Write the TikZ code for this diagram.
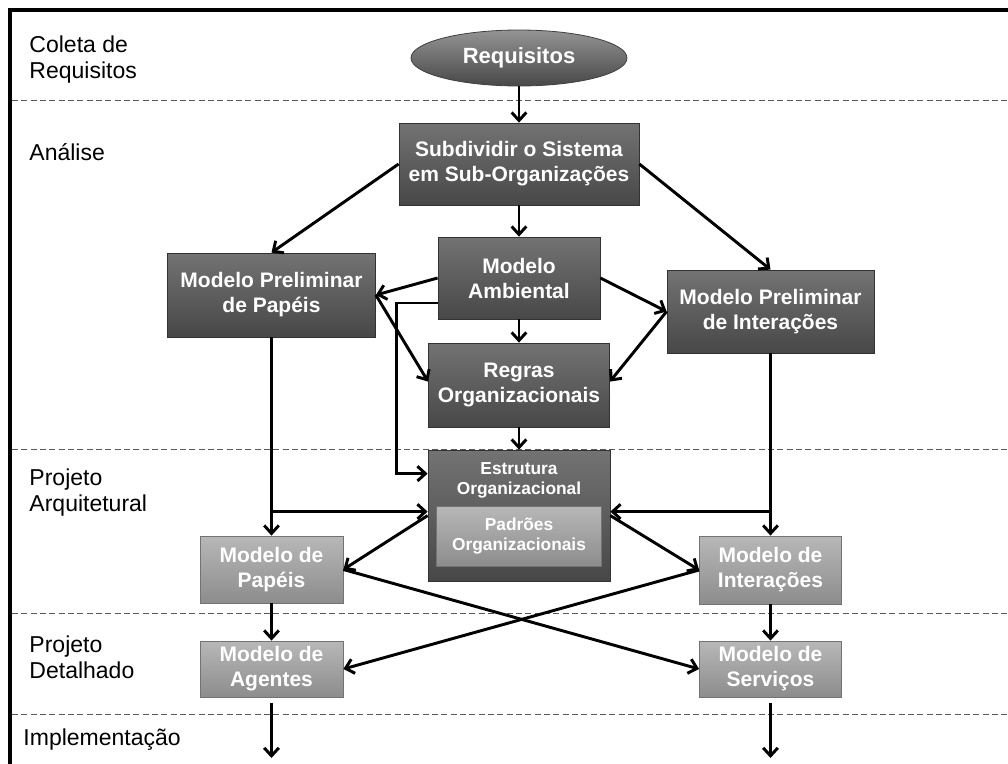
\documentclass[tikz,border=0pt]{standalone}
\usepackage{fontspec}
\setmainfont{Liberation Sans}
\usetikzlibrary{shapes, shapes.geometric, arrows.meta, calc}

\def\pxu{0.75pt}

\begin{document}
\begin{tikzpicture}[
    x=0.75pt, y=-0.75pt,
    line width = 2.2pt,
    every node/.style={align=center, inner sep=0pt},
    boxsize/.style 2 args={minimum width=#1*\pxu, minimum height=#2*\pxu},
    darkbox/.style={rectangle, draw=black!80, line width=0.6pt,
        top color=black!55, bottom color=black!72, text=white,
        font=\bfseries\fontsize{15.75}{18.75}\selectfont},
    lightbox/.style={rectangle, draw=black!55, line width=0.6pt,
        top color=black!28, bottom color=black!45, text=white,
        font=\bfseries\fontsize{15.75}{18.75}\selectfont},
    phase/.style={anchor=west, align=left, font=\fontsize{17.25}{19.5}\selectfont},
    sep/.style={line width=0.75pt, black!65, dash pattern=on 4.5pt off 2.5pt},
    flow/.style={-{Straight Barb[length=6pt, width=11pt]}, line width=2.2pt}
    ]

    % Determines the boundries
    \path[use as bounding box] (0,0) rectangle (1008,764);

    % Outer frame, only its top and left sides fall in the picture
    \draw[line width=3pt] (10,764) -- (10,10) -- (1008,10);

    % Phase separators
    \foreach \y in {100, 449, 613, 714}{
        \draw[sep] (12,\y) -- (1008,\y);
    }

    % Phase names
    \node[phase] (lColeta)  at (28, 60)  {Coleta de\\Requisitos};
    \node[phase] (lAnalise) at (28, 152) {Análise};
    \node[phase] (lArq)     at (28, 493) {Projeto\\Arquitetural};
    \node[phase] (lDet)     at (28, 657) {Projeto\\Detalhado};
    \node[phase] (lImpl)    at (22, 740) {Implementação};

    % Analysis models
    \node[ellipse, boxsize={216}{56}, draw=black!75, line width=0.6pt,
          top color=black!42, bottom color=black!72, text=white,
          font=\bfseries\fontsize{16.5}{19}\selectfont]
          (req) at (519, 58) {Requisitos};
    \node[darkbox, boxsize={240}{82}] (sub)       at (519, 164)   {Subdividir o Sistema\\em Sub-Organizações};
    \node[darkbox, boxsize={162}{82}] (amb)       at (519, 278)   {Modelo\\Ambiental};
    \node[darkbox, boxsize={208}{84}] (prelimPap) at (271.5, 295) {Modelo Preliminar\\de Papéis};
    \node[darkbox, boxsize={207}{83}] (prelimInt) at (770.5, 311.5) {Modelo Preliminar\\de Interações};
    \node[darkbox, boxsize={181}{84}] (regras)    at (519, 385)   {Regras\\Organizacionais};

    % Architectural design
    \node[darkbox, boxsize={182}{131}] (estr) at (519, 515.5) {};
    \node[text=white, font=\bfseries\fontsize{13}{15}\selectfont]
          (estrTxt) at (519, 480) {Estrutura\\Organizacional};
    \node[lightbox, boxsize={165}{60}, font=\bfseries\fontsize{13}{15}\selectfont]
          (padroes) at (519, 536) {Padrões\\Organizacionais};
    \node[lightbox, boxsize={143}{67}] (papeis) at (271.5, 569.5) {Modelo de\\Papéis};
    \node[lightbox, boxsize={142}{68}] (inter)  at (770.5, 570)   {Modelo de\\Interações};

    % Detailed design
    \node[lightbox, boxsize={143}{56}] (agentes)  at (271.5, 669) {Modelo de\\Agentes};
    \node[lightbox, boxsize={142}{56}] (servicos) at (770.5, 669) {Modelo de\\Serviços};

    % Helper points on the sides of the boxes
    \coordinate (ambOut) at ($(amb.west)+(0,25)$);
    \coordinate (estrIn) at ($(estr.north west)+(0,24)$);
    \coordinate (estrL)  at ($(estr.north west)+(0,62)$);
    \coordinate (estrR)  at ($(estr.north east)+(0,62)$);
    \coordinate (estrLo) at ($(estr.north west)+(0,66)$);
    \coordinate (estrRo) at ($(estr.north east)+(0,66)$);
    \coordinate (regL)   at ($(regras.north west)+(0,39)$);
    \coordinate (regR)   at ($(regras.north east)+(0,39)$);
    \coordinate (implA)  at (271.5, 758);
    \coordinate (implS)  at (770.5, 758);

    % Analysis flow
    \draw[flow] (req.south) -- (sub.north);
    \draw[flow] (sub.south) -- (amb.north);
    \draw[flow] (sub.west)  -- (prelimPap.north);
    \draw[flow] (sub.east)  -- (prelimInt.north);
    \draw[flow] (amb.west)  -- (prelimPap.east);
    \draw[flow] (amb.east)  -- (prelimInt.west);
    \draw[flow] (amb.south) -- (regras.north);
    \draw[flow] (prelimPap.east) -- (regL);
    \draw[flow] (prelimInt.west) -- (regR);
    \draw[flow] (ambOut) -- ++(-41,0) |- (estrIn);
    \draw[flow] (regras.south) -- (estr.north);

    % Architectural flow
    \foreach \src/\dst/\side in {prelimPap/papeis/estrL, prelimInt/inter/estrR}{
        \draw[flow] (\src.south) -- (\dst.north);
        \draw[flow] (\src.south |- \side) -- (\side);
    }
    \draw[flow] (estrLo) -- (papeis.east);
    \draw[flow] (estrRo) -- (inter.west);

    % Detailed flow
    \draw[flow] (papeis.east) -- (servicos.west);
    \draw[flow] (inter.west)  -- (agentes.east);
    \draw[flow] (papeis.south) -- (agentes.north);
    \draw[flow] (inter.south)  -- (servicos.north);

    % Implementation
    \draw[flow] ($(agentes.south)+(0,6)$)  -- (implA);
    \draw[flow] ($(servicos.south)+(0,6)$) -- (implS);
\end{tikzpicture}
\end{document}
